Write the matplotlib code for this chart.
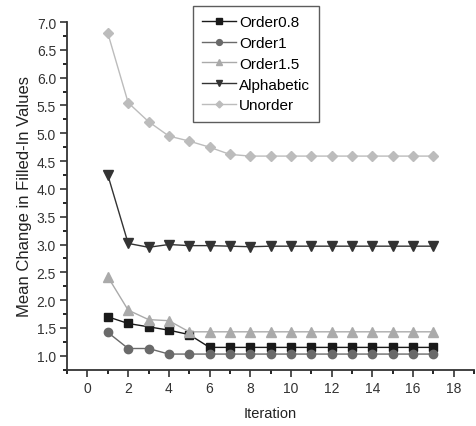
import matplotlib.pyplot as plt
from matplotlib.ticker import MultipleLocator

plt.rcParams['font.family'] = ['Liberation Sans', 'DejaVu Sans']

iterations = list(range(1, 18))
order08 = [1.70, 1.58, 1.52, 1.46, 1.38, 1.15, 1.15, 1.15, 1.15, 1.15, 1.15, 1.15, 1.15, 1.15, 1.15, 1.15, 1.15]
order1 = [1.42, 1.13, 1.13, 1.03, 1.03, 1.03, 1.03, 1.03, 1.03, 1.03, 1.03, 1.03, 1.03, 1.03, 1.03, 1.03, 1.03]
order15 = [2.42, 1.82, 1.65, 1.63, 1.43, 1.43, 1.43, 1.43, 1.43, 1.43, 1.43, 1.43, 1.43, 1.43, 1.43, 1.43, 1.43]
alphabetic = [4.25, 3.02, 2.95, 3.00, 2.98, 2.98, 2.97, 2.96, 2.97, 2.97, 2.97, 2.97, 2.97, 2.97, 2.97, 2.97, 2.97]
unorder = [6.80, 5.55, 5.21, 4.95, 4.86, 4.75, 4.62, 4.59, 4.59, 4.59, 4.59, 4.59, 4.59, 4.59, 4.59, 4.59, 4.59]

fig = plt.figure(figsize=(4.76, 4.27), dpi=100)
ax = fig.add_axes([0.141, 0.132, 0.855, 0.814])

ax.plot(iterations, order08, color='#1a1a1a', marker='s', ms=5.5, lw=1, label='Order0.8')
ax.plot(iterations, order1, color='#6a6a6a', marker='o', ms=6, lw=1, label='Order1')
ax.plot(iterations, order15, color='#aaaaaa', marker='^', ms=7, lw=1, label='Order1.5')
ax.plot(iterations, alphabetic, color='#333333', marker='v', ms=7, lw=1, label='Alphabetic')
ax.plot(iterations, unorder, color='#bcbcbc', marker='D', ms=5, lw=1, label='Unorder')

ax.set_xlim(-1, 19)
ax.set_ylim(0.75, 7.0)
ax.xaxis.set_major_locator(MultipleLocator(2))
ax.xaxis.set_minor_locator(MultipleLocator(1))
ax.yaxis.set_major_locator(MultipleLocator(0.5))
ax.yaxis.set_minor_locator(MultipleLocator(0.25))
ax.yaxis.set_major_formatter(plt.FormatStrFormatter('%.1f'))
ax.tick_params(labelsize=10, colors='#333333', length=5, width=1.2, pad=3)
ax.tick_params(which='minor', length=3, width=1.2)
for s in ['top', 'right']:
    ax.spines[s].set_visible(False)
for s in ['left', 'bottom']:
    ax.spines[s].set_linewidth(1.3)
    ax.spines[s].set_color('#333333')

ax.set_xlabel('Iteration', fontsize=10.5, color='#222222', labelpad=8)
ax.set_ylabel('Mean Change in Filled-In Values', fontsize=12, color='#222222', labelpad=3)

fig.legend(loc='upper left', bbox_to_anchor=(0.406, 0.984), fontsize=11, frameon=True,
           fancybox=False, edgecolor='#333333', handlelength=2.2, handletextpad=0.2,
           labelspacing=0.45, borderpad=0.6, borderaxespad=0, markerscale=0.7)

plt.savefig('out.png', dpi=100)
